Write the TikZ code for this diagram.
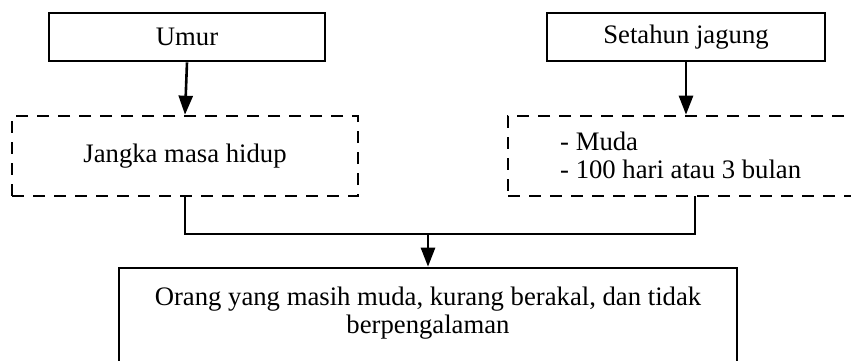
\documentclass[tikz,border=0pt]{standalone}
\usepackage{fontspec}
\setmainfont{Liberation Serif}
\usetikzlibrary{arrows.meta}
\begin{document}
\begin{tikzpicture}[x=1pt,y=-1pt,
  every node/.style={font=\fontsize{26.7}{28}\selectfont, inner sep=0pt},
  solidbox/.style={draw, line width=2.6pt, rectangle},
  dashbox/.style={draw, line width=2.6pt, rectangle, dash pattern=on 12pt off 9pt},
  conn/.style={line width=2.6pt},
  arr/.style={conn, -{Triangle[length=19pt,width=14pt]}}]
\useasboundingbox (0,0) rectangle (851,361);
\clip (0,0) rectangle (851,361);
% top boxes
\node[solidbox, minimum width=276pt, minimum height=48pt] (umur) at (187,37) {Umur};
\node[solidbox, minimum width=278pt, minimum height=48pt] (setahun) at (686,37) {Setahun jagung};
% dashed boxes
\node[dashbox, minimum width=346pt, minimum height=80pt] (jangka) at (185,156) {Jangka masa hidup};
\node[dashbox, minimum width=380pt, minimum height=80pt] (mudabox) at (698,156) {};
\node[anchor=base west, align=left] (muda) at (560,178) {- Muda\\- 100 hari atau 3 bulan};
% bottom box
\node[solidbox, minimum width=618pt, minimum height=140pt] (bottom) at (428,338) {};
\node[anchor=base, align=center] (btext) at (428,333) {Orang yang masih muda, kurang berakal, dan tidak\\berpengalaman};
% connectors
\coordinate (mid) at (428,234);
\coordinate (rb) at (695,196);
\draw[arr] (umur.south) -- (jangka.north);
\draw[arr] (setahun.south) -- (setahun.south |- mudabox.north);
\draw[conn] (jangka.south) |- (mid) -| (rb);
\draw[arr] (mid) -- (bottom.north);
\end{tikzpicture}
\end{document}
